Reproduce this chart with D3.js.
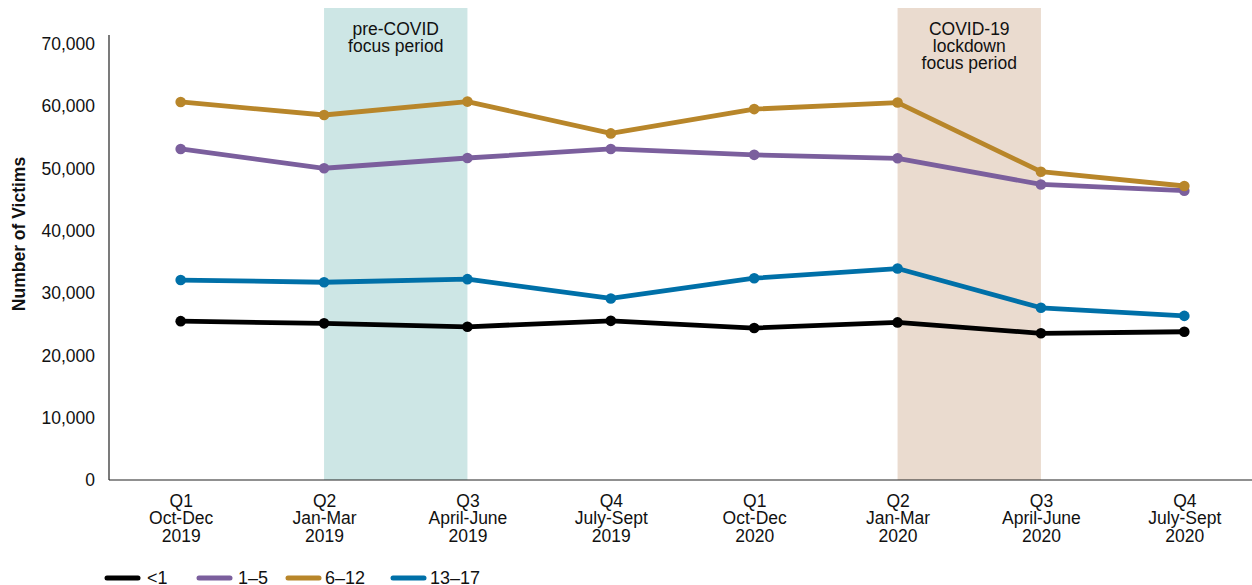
<!DOCTYPE html>
<html>
<head>
<meta charset="utf-8">
<script src="https://cdn.jsdelivr.net/npm/d3@7"></script>
<style>
  body { margin: 0; background: #fff; }
  svg { font-family: "Liberation Sans", Arial, sans-serif; }
</style>
</head>
<body>
<svg id="chart"></svg>
<script>
const quarters = ["Q1", "Q2", "Q3", "Q4", "Q1", "Q2", "Q3", "Q4"];
const periods = ["Oct-Dec", "Jan-Mar", "April-June", "July-Sept", "Oct-Dec", "Jan-Mar", "April-June", "July-Sept"];
const years = ["2019", "2019", "2019", "2019", "2020", "2020", "2020", "2020"];
const categories = quarters.map((q, i) => q + " " + periods[i] + " " + years[i]);

const seriesNames = ["<1", "1\u20135", "6\u201312", "13\u201317"];
const under1 = [25500, 25150, 24600, 25550, 24400, 25300, 23550, 23800];
const age1to5 = [53150, 50050, 51700, 53150, 52200, 51650, 47450, 46450];
const age6to12 = [60700, 58600, 60750, 55650, 59550, 60600, 49500, 47200];
const age13to17 = [32100, 31750, 32250, 29150, 32400, 33950, 27650, 26350];
const seriesColors = ["#000000", "#7b5f9d", "#b8862a", "#0070a8"];

const yTicks = [0, 10000, 20000, 30000, 40000, 50000, 60000, 70000];

// shaded periods: [from index, to index, label lines]
const bands = [
  { from: 1, to: 2, fill: "#cde6e5", lines: ["pre-COVID", "focus period"] },
  { from: 5, to: 6, fill: "#eadbcf", lines: ["COVID-19", "lockdown", "focus period"] }
];

const width = 1252, height = 585;
const svg = d3.select("#chart").attr("width", width).attr("height", height);

const x = d3.scalePoint().domain(categories).range([109, 1256]).padding(0.5);
const y = d3.scaleLinear().domain([0, 70000]).range([480, 44]);

// bands
svg.selectAll("rect.band")
  .data(bands)
  .enter()
  .append("rect")
  .attr("class", "band")
  .attr("x", d => x(categories[d.from]))
  .attr("width", d => x(categories[d.to]) - x(categories[d.from]))
  .attr("y", 8)
  .attr("height", y(0) - 8)
  .attr("fill", d => d.fill);

bands.forEach(b => {
  const cx = (x(categories[b.from]) + x(categories[b.to])) / 2;
  const t = svg.append("text")
    .attr("x", cx)
    .attr("y", 35)
    .attr("text-anchor", "middle")
    .attr("font-size", 17.5)
    .attr("fill", "#111");
  b.lines.forEach((l, i) => {
    t.append("tspan").attr("x", cx).attr("dy", i === 0 ? 0 : 17).text(l);
  });
});

// axes
const yAxis = d3.axisLeft(y).tickValues(yTicks).tickFormat(d3.format(",")).tickSize(0).tickPadding(14);
const gy = svg.append("g").attr("transform", "translate(109,0)").call(yAxis);
gy.select(".domain").remove();
gy.selectAll("text").attr("font-size", 17.5).attr("fill", "#111").attr("font-family", "Liberation Sans, Arial, sans-serif");

svg.append("line")
  .attr("x1", 109).attr("x2", 109)
  .attr("y1", 35).attr("y2", y(0))
  .attr("stroke", "#222").attr("stroke-width", 1.2);
svg.append("line")
  .attr("x1", 109).attr("x2", 1252)
  .attr("y1", y(0)).attr("y2", y(0))
  .attr("stroke", "#222").attr("stroke-width", 1.2);

const xAxis = d3.axisBottom(x).tickSize(0).tickFormat("");
const gx = svg.append("g").attr("transform", "translate(0," + y(0) + ")").call(xAxis);
gx.select(".domain").remove();
gx.selectAll(".tick").each(function(d, i) {
  const t = d3.select(this).append("text")
    .attr("y", 27)
    .attr("text-anchor", "middle")
    .attr("font-size", 17.5)
    .attr("fill", "#111");
  [quarters[i], periods[i], years[i]].forEach((l, j) => {
    t.append("tspan").attr("x", 0).attr("dy", j === 0 ? 0 : 17.3).text(l);
  });
});

svg.append("text")
  .attr("transform", "translate(25,234) rotate(-90)")
  .attr("text-anchor", "middle")
  .attr("font-size", 17.5)
  .attr("font-weight", "bold")
  .attr("fill", "#111")
  .text("Number of Victims");

// series
const allSeries = [under1, age1to5, age6to12, age13to17].map((vals, i) => ({
  name: seriesNames[i],
  color: seriesColors[i],
  values: vals.map((v, j) => ({ cat: categories[j], v: v }))
}));

const line = d3.line().x(d => x(d.cat)).y(d => y(d.v));

const drawOrder = [0, 3, 1, 2];
drawOrder.forEach(k => {
  const s = allSeries[k];
  const g = svg.append("g");
  g.append("path")
    .datum(s.values)
    .attr("d", line)
    .attr("fill", "none")
    .attr("stroke", s.color)
    .attr("stroke-width", 4.8)
    .attr("stroke-linejoin", "round");
  g.selectAll("circle")
    .data(s.values)
    .enter()
    .append("circle")
    .attr("cx", d => x(d.cat))
    .attr("cy", d => y(d.v))
    .attr("r", 5.3)
    .attr("fill", s.color);
});

// legend
const legendLineX = [107, 199, 288, 393];
const legendTextX = [147, 238, 325, 430];
const legend = svg.append("g").attr("transform", "translate(0,578)");
allSeries.forEach((s, i) => {
  legend.append("line")
    .attr("x1", legendLineX[i]).attr("x2", legendLineX[i] + 31)
    .attr("y1", 0).attr("y2", 0)
    .attr("stroke", s.color)
    .attr("stroke-width", 5)
    .attr("stroke-linecap", "round");
  legend.append("text")
    .attr("x", legendTextX[i])
    .attr("y", 6)
    .attr("font-size", 18)
    .attr("fill", "#111")
    .text(s.name);
});
</script>
</body>
</html>
